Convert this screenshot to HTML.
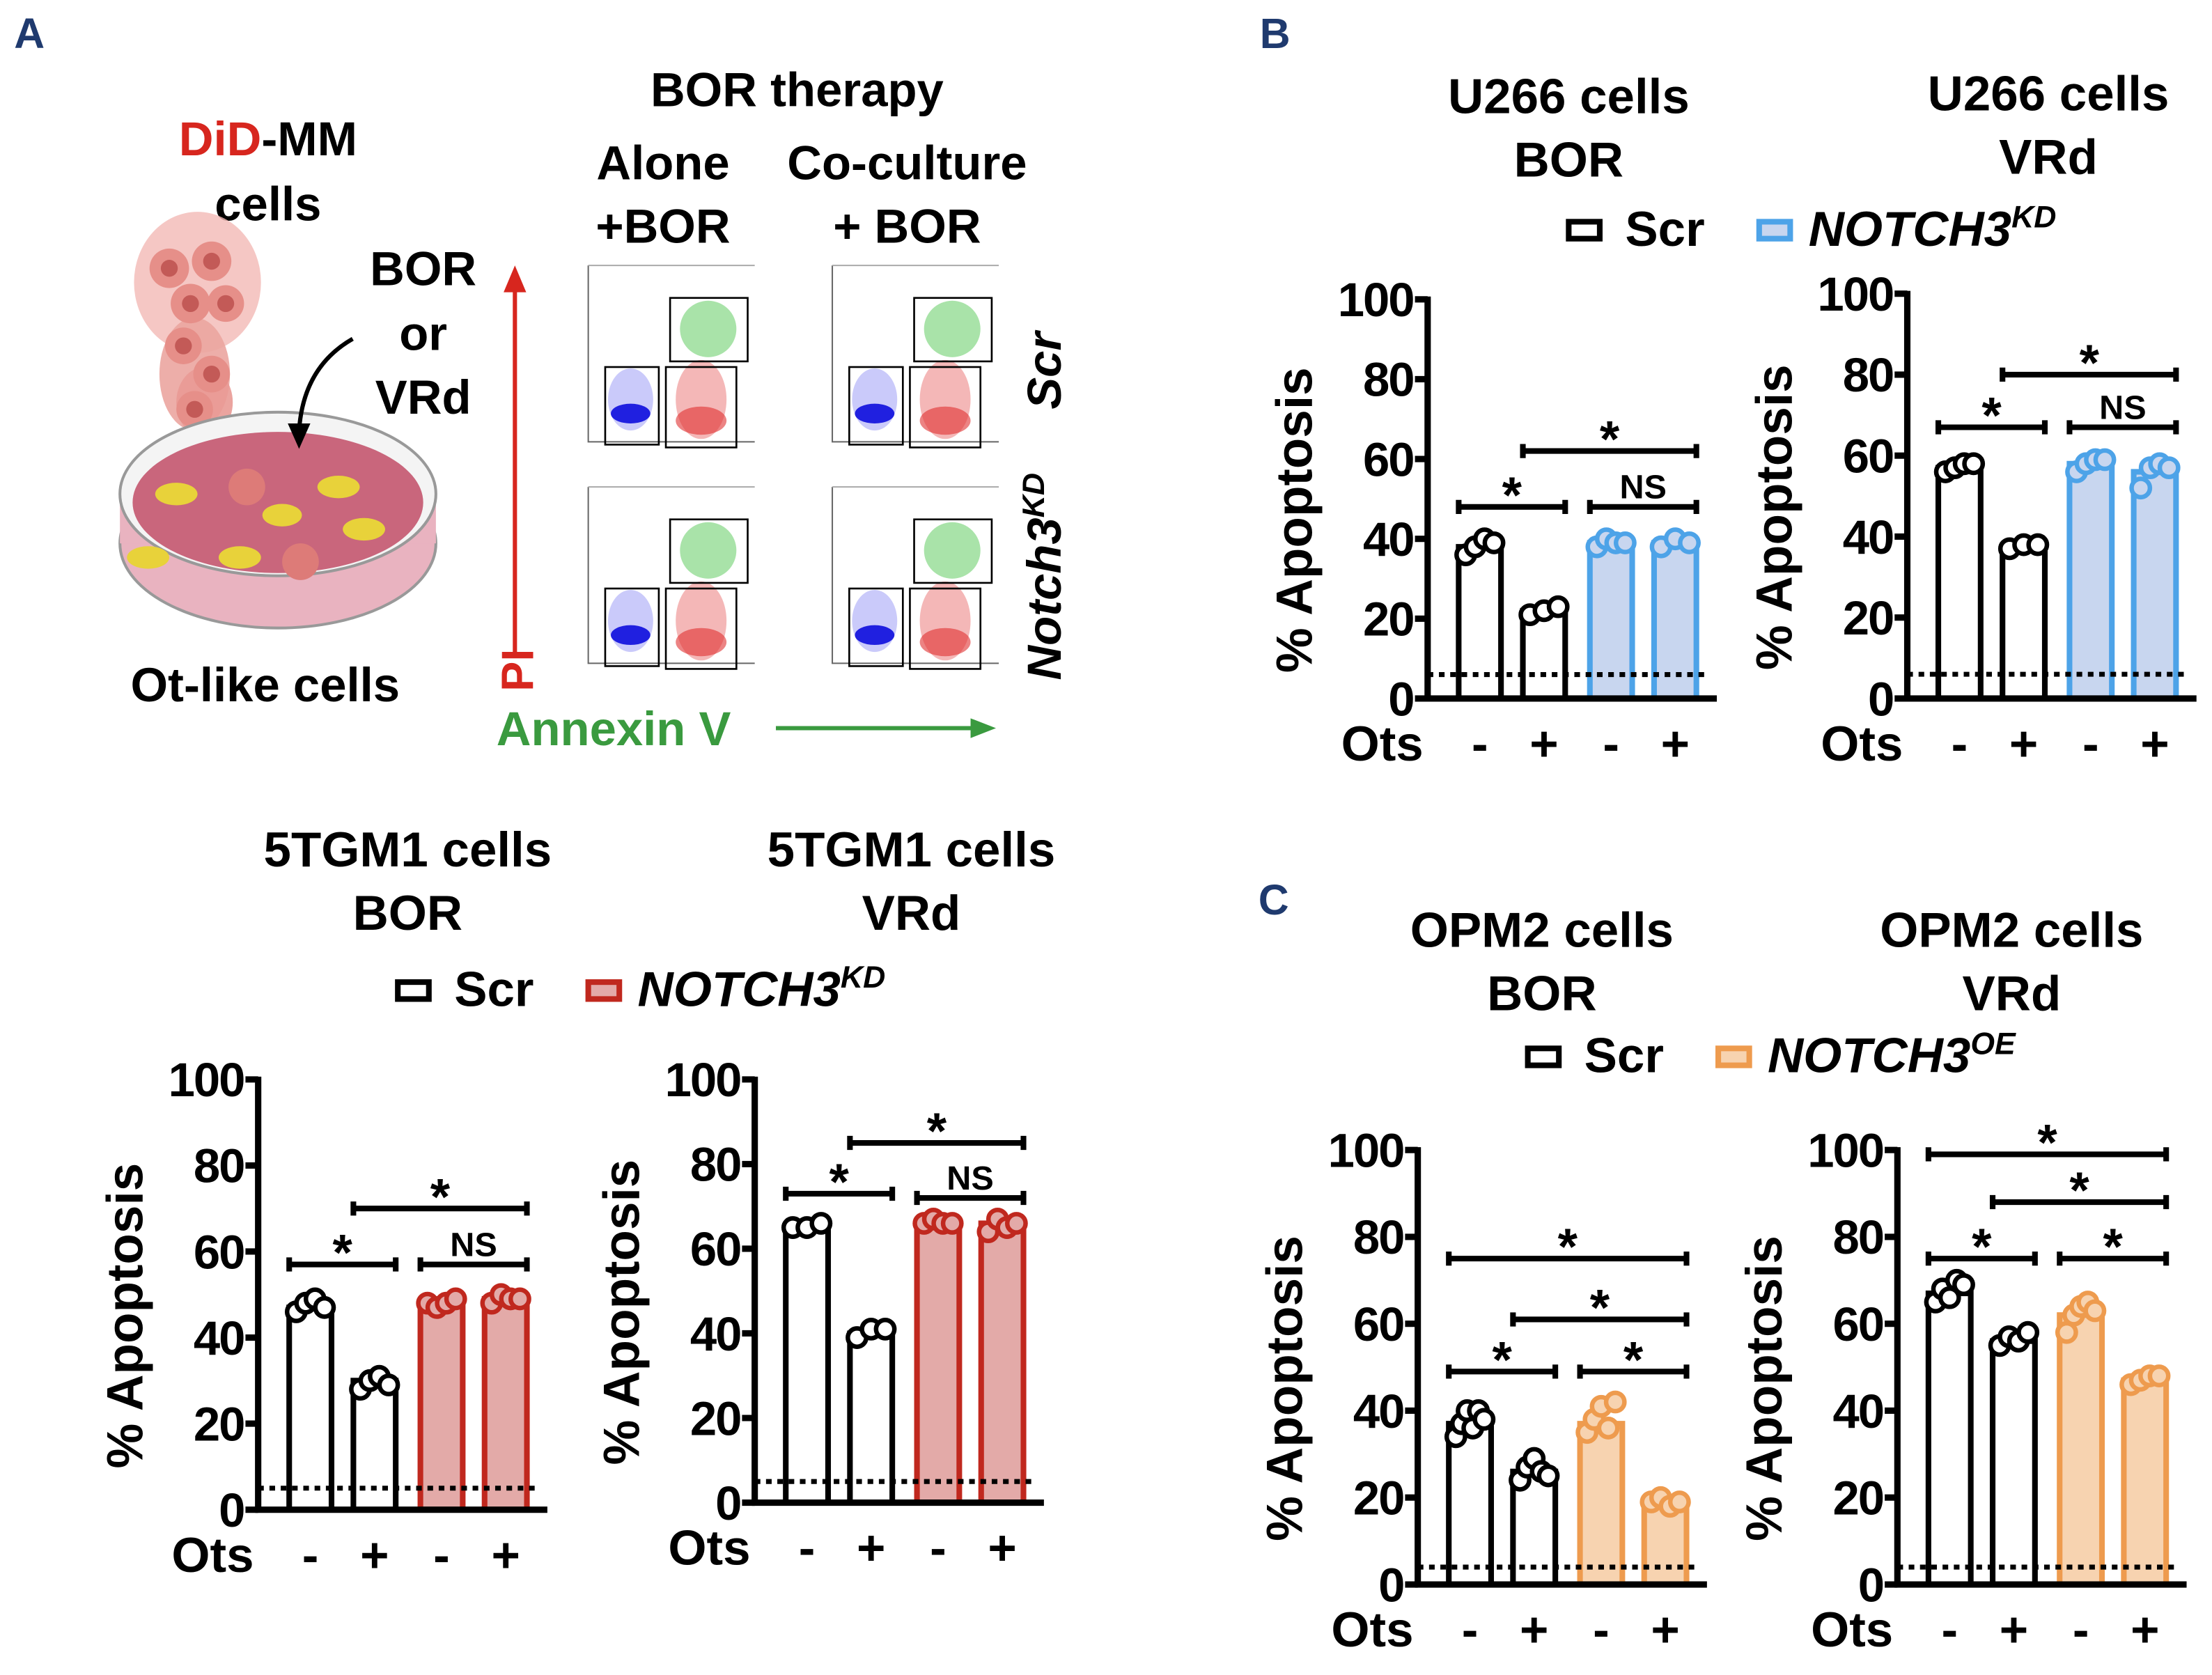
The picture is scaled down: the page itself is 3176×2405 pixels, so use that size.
<!DOCTYPE html>
<html><head><meta charset="utf-8"><style>
html,body{margin:0;padding:0;background:#fff}
svg{display:block}
text{font-family:"Liberation Sans",sans-serif;font-weight:bold}
</style></head><body>
<svg id="fig" width="3176" height="2405" viewBox="0 0 1568 1187" xmlns="http://www.w3.org/2000/svg">
<g>
<text x="10" y="34" font-size="30" fill="#1f3a6e">A</text>
<text x="893" y="34" font-size="30" fill="#1f3a6e">B</text>
<text x="892" y="648" font-size="30" fill="#1f3a6e">C</text>
<text x="190" y="110" font-size="34" text-anchor="middle"><tspan fill="#d7261e">DiD</tspan>-MM</text>
<text x="190" y="156" font-size="34" text-anchor="middle">cells</text>
<text x="300" y="202" font-size="34" text-anchor="middle">BOR</text>
<text x="300" y="248" font-size="34" text-anchor="middle">or</text>
<text x="300" y="293" font-size="34" text-anchor="middle">VRd</text>
<text x="188" y="497" font-size="34" text-anchor="middle">Ot-like cells</text>
<g>
<ellipse cx="140" cy="200" rx="45" ry="50" fill="#f2b9b5" opacity="0.8"/>
<ellipse cx="138" cy="265" rx="25" ry="40" fill="#eba5a0" opacity="0.9"/>
<ellipse cx="145" cy="285" rx="20" ry="25" fill="#e99a95" opacity="0.9"/>
<circle cx="120" cy="190" r="14" fill="#e68f89"/><circle cx="150" cy="185" r="14" fill="#e68f89"/><circle cx="135" cy="215" r="14" fill="#e68f89"/><circle cx="160" cy="215" r="13" fill="#e68f89"/><circle cx="130" cy="245" r="13" fill="#e68f89"/><circle cx="150" cy="265" r="13" fill="#e68f89"/><circle cx="138" cy="290" r="13" fill="#e68f89"/>
<circle cx="120" cy="190" r="6" fill="#c35a57"/><circle cx="150" cy="185" r="6" fill="#c35a57"/><circle cx="135" cy="215" r="6" fill="#c35a57"/><circle cx="160" cy="215" r="6" fill="#c35a57"/><circle cx="130" cy="245" r="6" fill="#c35a57"/><circle cx="150" cy="265" r="6" fill="#c35a57"/><circle cx="138" cy="290" r="6" fill="#c35a57"/>
</g>
<g>
<ellipse cx="197" cy="385" rx="112" ry="60" fill="#e9b3c0" stroke="#999" stroke-width="2"/>
<rect x="85" y="350" width="224" height="35" fill="#e9b3c0"/>
<ellipse cx="197" cy="350" rx="112" ry="58" fill="#f4f4f4" stroke="#999" stroke-width="2"/>
<ellipse cx="197" cy="356" rx="103" ry="50" fill="#c9667c"/>
<ellipse cx="125" cy="350" rx="15" ry="8" fill="#e8d23a"/><ellipse cx="170" cy="395" rx="15" ry="8" fill="#e8d23a"/><ellipse cx="240" cy="345" rx="15" ry="8" fill="#e8d23a"/><ellipse cx="200" cy="365" rx="14" ry="8" fill="#e8d23a"/><ellipse cx="258" cy="375" rx="15" ry="8" fill="#e8d23a"/><ellipse cx="105" cy="395" rx="15" ry="8" fill="#e8d23a"/>
<circle cx="175" cy="345" r="13" fill="#dd7b78"/><circle cx="213" cy="398" r="13" fill="#dd7b78"/>
<path d="M250 240 Q215 260 212 305" fill="none" stroke="#000" stroke-width="3"/><path d="M204 300 L212 318 L220 300 Z"/>
</g>
<text x="565" y="75" font-size="34" text-anchor="middle">BOR therapy</text>
<text x="470" y="127" font-size="34" text-anchor="middle">Alone</text>
<text x="470" y="172" font-size="34" text-anchor="middle">+BOR</text>
<text x="643" y="127" font-size="34" text-anchor="middle">Co-culture</text>
<text x="643" y="172" font-size="34" text-anchor="middle">+ BOR</text>
<line x1="365" y1="465" x2="365" y2="205" stroke="#d7261e" stroke-width="3"/><path d="M357 207 L365 188 L373 207 Z" fill="#d7261e"/>
<text x="0" y="0" font-size="32" fill="#d7261e" transform="translate(378,490) rotate(-90)">PI</text>
<text x="435" y="528" font-size="34" fill="#3a9a3f" text-anchor="middle">Annexin V</text>
<line x1="550" y1="516" x2="690" y2="516" stroke="#3a9a3f" stroke-width="3"/><path d="M688 509 L706 516 L688 523 Z" fill="#3a9a3f"/>
<text transform="translate(752,290) rotate(-90)" font-size="34" font-style="italic">Scr</text>
<text transform="translate(752,482) rotate(-90)" font-size="34" font-style="italic">Notch3<tspan font-size="22" dy="-12">KD</tspan></text>
<g id="flow"></g>
</g>
<g id="charts"></g>
</svg>
<script>
const NS="http://www.w3.org/2000/svg";
const svg=document.getElementById('charts');
function el(tag,attrs,parent){const e=document.createElementNS(NS,tag);for(const k in attrs)e.setAttribute(k,attrs[k]);(parent||svg).appendChild(e);return e;}

const flow=document.getElementById('flow');
const flowOrigins=[[405,188],[578,188],[405,345],[578,345]];
flowOrigins.forEach(o=>{
  const g=el('g',{},flow);
  
  
  const [x,y]=o;
  el('path',{d:`M${x+12} ${y} V${y+125} H${x+130}`,fill:'none',stroke:'#666','stroke-width':1},g);
  el('line',{x1:x+12,y1:y,x2:x+130,y2:y,stroke:'#aaa','stroke-width':1},g);
  el('ellipse',{cx:x+42,cy:y+95,rx:16,ry:22,fill:'#5050f0',opacity:0.3},g);
  el('ellipse',{cx:x+42,cy:y+105,rx:14,ry:7,fill:'#2020e0'},g);
  el('ellipse',{cx:x+92,cy:y+95,rx:18,ry:28,fill:'#e03030',opacity:0.35},g);
  el('ellipse',{cx:x+92,cy:y+110,rx:18,ry:10,fill:'#e03030',opacity:0.6},g);
  el('ellipse',{cx:x+97,cy:y+45,rx:20,ry:20,fill:'#40c040',opacity:0.45},g);
  el('rect',{x:x+24,y:y+72,width:38,height:55,fill:'none',stroke:'#000','stroke-width':1.3},g);
  el('rect',{x:x+67,y:y+72,width:50,height:57,fill:'none',stroke:'#000','stroke-width':1.3},g);
  el('rect',{x:x+70,y:y+23,width:55,height:45,fill:'none',stroke:'#000','stroke-width':1.3},g);
});

// ===== data =====
const groups=["Scr -","Scr +","KD -","KD +"];
const ots=["-","+","-","+"];
const tgmBorVals=[47,30,48,49];
const tgmBorDots=[[46,48,49,47],[28,30,31,29],[48,47,48,49],[48,50,49,49]];
const tgmVrdVals=[65,40,66,66];
const tgmVrdDots=[[65,65,66],[39,41,41],[66,67,66,66],[64,67,65,66]];
const u266BorVals=[38,22,39,39];
const u266BorDots=[[36,38,40,39],[21,22,23],[38,40,39,39],[38,40,39]];
const u266VrdVals=[57,37,58,56];
const u266VrdDots=[[56,57,58,58],[37,38,38],[56,58,59,59],[52,57,58,57]];
const opmBorVals=[37,26,37,19];
const opmBorDots=[[34,37,40,36,40,38],[24,27,29,26,25],[35,38,41,36,42],[19,20,18,19]];
const opmVrdVals=[67,56,62,47];
const opmVrdDots=[[65,68,66,70,69],[55,57,56,58],[58,62,64,65,63],[46,47,48,48]];
const yTicks=[0,20,40,60,80,100];
const tgmBorBr=[[0,1,57,"*"],[1,3,70,"*"],[2,3,57,"NS"]];
const tgmVrdBr=[[0,1,73,"*"],[1,3,85,"*"],[2,3,72,"NS"]];
const u266BorBr=[[0,1,48,"*"],[1,3,62,"*"],[2,3,48,"NS"]];
const u266VrdBr=[[0,1,67,"*"],[1,3,80,"*"],[2,3,67,"NS"]];
const opmBorBr=[[0,3,75,"*"],[1,3,61,"*"],[0,1,49,"*"],[2,3,49,"*"]];
const opmVrdBr=[[0,3,99,"*"],[1,3,88,"*"],[0,1,75,"*"],[2,3,75,"*"]];

function chart(cfg){
  const g=el('g',{});
  
  
  const y=v=>cfg.y0-(cfg.y0-cfg.y100)*v/100;
  const x=i=>cfg.ax+37+i*45.5+(i>=2?2:0);
  const bw=30;
  cfg.vals.forEach((v,i)=>{
    const col=i<2?'#000':cfg.col, fill=i<2?'#fff':cfg.fill;
    const r=el('rect',{x:x(i)-bw/2,y:y(v),width:bw,height:y(0)-y(v),fill:fill,stroke:col,'stroke-width':4},g);
    
    
    const n=cfg.dots[i].length;
    cfg.dots[i].forEach((d,k)=>{
      const c=el('circle',{cx:x(i)-10+20*k/(Math.max(n-1,1)),cy:y(d),r:6.5,fill:i<2?'#fff':cfg.fill,stroke:col,'stroke-width':3.2},g);
      
      
    });
  });
  const dl=el('line',{x1:cfg.ax,x2:cfg.ax+200,y1:y(cfg.base),y2:y(cfg.base),stroke:'#000','stroke-width':3.5,'stroke-dasharray':'4 4'},g);
  
  
  const ya=el('line',{x1:cfg.ax,x2:cfg.ax,y1:y(100)-2,y2:y(0),stroke:'#000','stroke-width':4.5},g);
  
  
  const xa=el('line',{x1:cfg.ax-2,x2:cfg.ax+205,y1:y(0),y2:y(0),stroke:'#000','stroke-width':4.5},g);
  
  
  yTicks.forEach(t=>{
    el('line',{x1:cfg.ax-9,x2:cfg.ax,y1:y(t),y2:y(t),stroke:'#000','stroke-width':4.5},g);
    const tt=el('text',{x:cfg.ax-10,y:y(t)+12,'font-size':34,'text-anchor':'end','letter-spacing':'-1'},g);
    tt.textContent=t;
    
    
  });
  const yl=el('text',{transform:`translate(${cfg.ax-82},${(y(0)+y(100))/2+15}) rotate(-90)`,'font-size':36,'text-anchor':'middle'},g);
  yl.textContent='% Apoptosis';
  
  
  const ol=el('text',{x:cfg.ax-3,y:y(0)+44,'font-size':35,'text-anchor':'end'},g);
  ol.textContent='Ots';
  
  
  ots.forEach((s,i)=>{
    const t=el('text',{x:x(i),y:y(0)+44,'font-size':35,'text-anchor':'middle'},g);
    t.textContent=s;
    
    
  });
  cfg.br.forEach(b=>{
    const x1=x(b[0])-15,x2=x(b[1])+15,yy=y(b[2]);
    el('path',{d:`M${x1} ${yy-5}V${yy+5}M${x1} ${yy}H${x2}M${x2} ${yy-5}V${yy+5}`,stroke:'#000','stroke-width':4,fill:'none'},g);
    const t=el('text',{x:(x1+x2)/2,y:b[3]==='NS'?yy-6:yy+4,'font-size':b[3]==='NS'?24:36,'text-anchor':'middle'},g);
    t.textContent=b[3];
    
    
  });
}
const red='#c0281e',redF='#e3aaa8',blue='#4da3e8',blueF='#c8d6ef',org='#ee9b4e',orgF='#f7d3b0';
chart({name:'chart-5tgm1-bor',ax:183,y0:1070,y100:765,vals:tgmBorVals,dots:tgmBorDots,br:tgmBorBr,col:red,fill:redF,base:5});
chart({name:'chart-5tgm1-vrd',ax:535,y0:1065,y100:765,vals:tgmVrdVals,dots:tgmVrdDots,br:tgmVrdBr,col:red,fill:redF,base:5});
chart({name:'chart-u266-bor',ax:1012,y0:495,y100:212,vals:u266BorVals,dots:u266BorDots,br:u266BorBr,col:blue,fill:blueF,base:6});
chart({name:'chart-u266-vrd',ax:1352,y0:495,y100:208,vals:u266VrdVals,dots:u266VrdDots,br:u266VrdBr,col:blue,fill:blueF,base:6});
chart({name:'chart-opm2-bor',ax:1005,y0:1123,y100:815,vals:opmBorVals,dots:opmBorDots,br:opmBorBr,col:org,fill:orgF,base:4});
chart({name:'chart-opm2-vrd',ax:1345,y0:1123,y100:815,vals:opmVrdVals,dots:opmVrdDots,br:opmVrdBr,col:org,fill:orgF,base:4});

function title(x,y,l1,l2,name){
  const t=el('text',{x:x,y:y,'font-size':35,'text-anchor':'middle'});t.textContent=l1;
  
  const t2=el('text',{x:x,y:y+45,'font-size':35,'text-anchor':'middle'});t2.textContent=l2;
  
}
title(289,614,'5TGM1 cells','BOR','title-5tgm1-bor');
title(646,614,'5TGM1 cells','VRd','title-5tgm1-vrd');
title(1112,80,'U266 cells','BOR','title-u266-bor');
title(1452,78,'U266 cells','VRd','title-u266-vrd');
title(1093,671,'OPM2 cells','BOR','title-opm2-bor');
title(1426,671,'OPM2 cells','VRd','title-opm2-vrd');

function legend(x,y,col,fill,sup,name){
  const g=el('g',{});
  el('rect',{x:x,y:y-17,width:22,height:12,fill:'#fff',stroke:'#000','stroke-width':4},g);
  const t=el('text',{x:x+40,y:y,'font-size':35},g);t.textContent='Scr';
  
  el('rect',{x:x+135,y:y-17,width:22,height:12,fill:fill,stroke:col,'stroke-width':4},g);
  const t2=el('text',{x:x+170,y:y,'font-size':35,'font-style':'italic'},g);t2.textContent='NOTCH3';
  
  const s=el('tspan',{'font-size':22,dy:-13},t2);s.textContent=sup;
  
}
legend(282,713,red,redF,'KD','legend-5tgm1');
legend(1112,174,blue,blueF,'KD','legend-u266');
legend(1083,760,org,orgF,'OE','legend-opm2');
</script>
</body></html>
